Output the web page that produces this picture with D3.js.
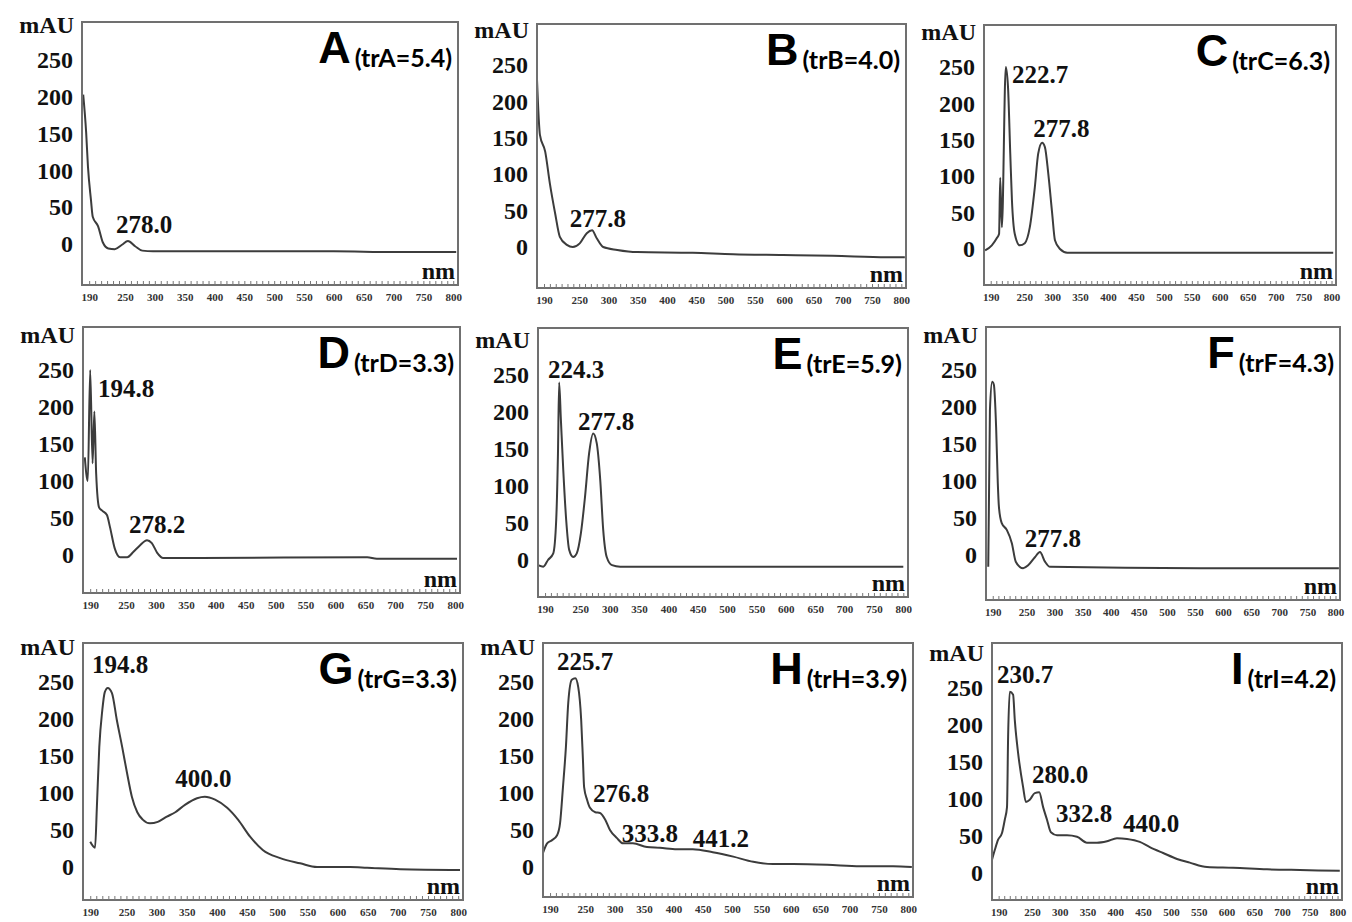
<!DOCTYPE html>
<html>
<head>
<meta charset="utf-8">
<script src="https://cdn.jsdelivr.net/npm/d3@7"></script>
<style>
  body { margin: 0; background: #fff; }
  svg { display: block; }
</style>
</head>
<body>
<div id="canvas"></div>
<script>
'use strict';

// Panel letters and retention times printed in each corner.
const panelIds = ['A', 'B', 'C', 'D', 'E', 'F', 'G', 'H', 'I'];
const retentionTimes = ['5.4', '4.0', '6.3', '3.3', '5.9', '4.3', '3.3', '3.9', '4.2'];

// Tick labels shared by all panels.
const mauTicks = [0, 50, 100, 150, 200, 250];
const nmTicks = [190, 250, 300, 350, 400, 450, 500, 550, 600, 650, 700, 750, 800];

// Spectra: wavelength (nm) and absorbance (mAU).
const nmA = [180, 185, 188, 193, 196, 205, 213, 222, 233, 245, 255, 267, 279, 297, 400, 500, 600, 700, 805];
const mauA = [203, 151, 105, 60, 37, 24, 2, -6, -7, -1, 4, -3, -9, -10, -10, -10, -10, -11, -11];

const nmB = [178, 183, 192, 200, 209, 217, 229, 239, 251, 263, 272, 280, 291, 315, 349, 444, 513, 598, 683, 775, 806];
const mauB = [230, 154, 131, 87, 46, 14, 3, 0, 5, 19, 23, 12, 0, -4, -7, -8, -10, -11, -12, -14, -14];

const nmC = [180, 192, 201, 205, 207, 210, 217, 221, 225, 228, 233, 242, 251, 260, 269, 275, 282, 287, 293, 300, 305, 314, 327, 600, 803];
const mauC = [-2, 5, 15, 21, 98, 30, 250, 222, 131, 67, 21, 5, 8, 30, 85, 131, 146, 140, 104, 49, 12, 0, -5, -5, -5];

const nmD = [181, 186, 190, 194, 197, 200, 205, 210, 218, 223, 231, 240, 252, 262, 273, 285, 293, 302, 312, 374, 653, 669, 803];
const mauD = [132, 100, 250, 124, 194, 110, 64, 60, 54, 38, 9, -3, -3, 4, 13, 20, 16, 3, -4, -4, -3, -5, -5];

const nmE = [178, 187, 195, 204, 209, 212, 214, 217, 221, 226, 231, 238, 244, 251, 258, 265, 272, 278, 284, 289, 295, 304, 318, 600, 800];
const mauE = [-7, -9, 0, 9, 54, 144, 240, 189, 122, 54, 14, 4, 9, 36, 85, 144, 171, 158, 108, 41, 4, -7, -9, -9, -9];

const nmF = [182, 185, 189, 192, 196, 199, 201, 206, 215, 224, 231, 244, 253, 265, 274, 283, 292, 559, 806];
const mauF = [-16, 196, 234, 230, 173, 97, 65, 43, 34, 16, -9, -18, -14, -3, 4, -9, -16, -18, -18];

const nmG = [190, 198, 201, 205, 210, 214, 219, 226, 234, 243, 251, 259, 268, 277, 289, 302, 317, 331, 347, 367, 380, 397, 417, 435, 455, 476, 505, 538, 566, 621, 649, 704, 803];
const mauG = [34, 26, 81, 162, 212, 236, 242, 235, 199, 162, 127, 95, 74, 64, 59, 61, 68, 74, 84, 93, 95, 91, 80, 64, 41, 23, 12, 5, 0, 0, -1, -3, -4];

const nmH = [178, 185, 193, 202, 207, 212, 217, 221, 227, 233, 238, 243, 246, 248, 253, 258, 267, 275, 284, 292, 304, 314, 331, 355, 377, 406, 433, 467, 502, 536, 570, 604, 662, 718, 774, 806];
const mauH = [19, 32, 36, 43, 59, 108, 162, 222, 253, 255, 243, 199, 145, 108, 91, 80, 74, 73, 64, 50, 39, 32, 32, 27, 26, 24, 24, 20, 14, 7, 4, 4, 3, 1, 1, 0];

const nmI = [178, 183, 189, 196, 201, 205, 207, 210, 216, 219, 225, 234, 239, 246, 255, 263, 270, 277, 284, 295, 313, 331, 349, 367, 385, 403, 421, 444, 462, 486, 511, 534, 565, 612, 673, 732, 804];
const mauI = [18, 31, 45, 54, 72, 89, 184, 245, 241, 207, 162, 116, 96, 99, 108, 109, 89, 72, 55, 51, 51, 49, 41, 41, 43, 47, 46, 42, 35, 27, 19, 14, 8, 7, 5, 4, 3];

// Peak labels, anchored (left edge, baseline) in data units.
const peaksA = [{label: '278.0', nm: 235, mau: 15}];
const peaksB = [{label: '277.8', nm: 234, mau: 27}];
const peaksC = [{label: '222.7', nm: 228, mau: 228}, {label: '277.8', nm: 266, mau: 154}];
const peaksD = [{label: '194.8', nm: 203, mau: 214}, {label: '278.2', nm: 255, mau: 30}];
const peaksE = [{label: '224.3', nm: 195, mau: 246}, {label: '277.8', nm: 246, mau: 176}];
const peaksF = [{label: '277.8', nm: 247, mau: 11}];
const peaksG = [{label: '194.8', nm: 193, mau: 262}, {label: '400.0', nm: 331, mau: 108}];
const peaksH = [{label: '225.7', nm: 202, mau: 266}, {label: '276.8', nm: 263, mau: 88},
  {label: '333.8', nm: 312, mau: 34}, {label: '441.2', nm: 433, mau: 27}];
const peaksI = [{label: '230.7', nm: 187, mau: 257}, {label: '280.0', nm: 250, mau: 122},
  {label: '332.8', nm: 293, mau: 69}, {label: '440.0', nm: 414, mau: 55}];

const spectra = {
  A: {nm: nmA, mau: mauA, peaks: peaksA},
  B: {nm: nmB, mau: mauB, peaks: peaksB},
  C: {nm: nmC, mau: mauC, peaks: peaksC},
  D: {nm: nmD, mau: mauD, peaks: peaksD},
  E: {nm: nmE, mau: mauE, peaks: peaksE},
  F: {nm: nmF, mau: mauF, peaks: peaksF},
  G: {nm: nmG, mau: mauG, peaks: peaksG},
  H: {nm: nmH, mau: mauH, peaks: peaksH},
  I: {nm: nmI, mau: mauI, peaks: peaksI},
};

// Frame boxes in page pixels. zeroY / topY are where 0 and 250 mAU sit,
// the scanned panels are not quite aligned so each one gets its own.
const frames = {
  A: {left: 82, top: 22, right: 458, bottom: 285, zeroY: 244, topY: 60},
  B: {left: 537, top: 24, right: 906, bottom: 288, zeroY: 247, topY: 65},
  C: {left: 984, top: 25, right: 1336, bottom: 285, zeroY: 249, topY: 67},
  D: {left: 83, top: 327, right: 460, bottom: 593, zeroY: 555, topY: 370},
  E: {left: 538, top: 328, right: 908, bottom: 597, zeroY: 560, topY: 375},
  F: {left: 986, top: 327, right: 1340, bottom: 600, zeroY: 555, topY: 370},
  G: {left: 83, top: 643, right: 463, bottom: 900, zeroY: 867, topY: 682},
  H: {left: 543, top: 643, right: 913, bottom: 897, zeroY: 867, topY: 682},
  I: {left: 992, top: 643, right: 1342, bottom: 900, zeroY: 873, topY: 688},
};

const SERIF = '"Liberation Serif", "Times New Roman", serif';

/**
 * Draws one UV spectrum panel (frame, axes, trace and peak labels).
 */
class SpectrumPanel {
  constructor(svg, id, tr, frame, spectrum) {
    /** @private @const */
    this.svg_ = svg;
    /** @private @const {string} */
    this.id_ = id;
    /** @private @const {string} */
    this.tr_ = tr;
    /** @private @const {Object} */
    this.frame_ = frame;
    /** @private @const {Object} */
    this.spectrum_ = spectrum;
    /** @private */
    this.x_ = d3.scaleLinear()
        .domain([178, 808])
        .range([frame.left, frame.right]);
    /** @private */
    this.y_ = d3.scaleLinear()
        .domain([0, 250])
        .range([frame.zeroY, frame.topY]);
    /** @private */
    this.group_ = svg.append('g').attr('class', `panel-${id}`);
  }

  draw() {
    this.drawCurve_();
    this.drawFrame_();
    this.drawAxes_();
    this.labelPeaks_();
    this.labelTitle_();
  }

  drawFrame_() {
    const f = this.frame_;
    this.group_.append('rect')
        .attr('x', f.left)
        .attr('y', f.top)
        .attr('width', f.right - f.left)
        .attr('height', f.bottom - f.top)
        .attr('fill', 'none')
        .attr('stroke', '#707070')
        .attr('stroke-width', 2);
  }

  drawAxes_() {
    const f = this.frame_;
    const yAxis = this.group_.append('g')
        .attr('transform', `translate(${f.left}, 0)`)
        .call(d3.axisLeft(this.y_).tickValues(mauTicks).tickSize(0).tickPadding(9));
    yAxis.select('.domain').remove();
    yAxis.selectAll('text')
        .attr('font-family', SERIF)
        .attr('font-weight', 'bold')
        .attr('font-size', 24)
        .attr('fill', '#111');

    // Small tick marks every 10 nm along the bottom edge.
    const minor = this.group_.append('g')
        .attr('transform', `translate(0, ${f.bottom})`)
        .call(d3.axisBottom(this.x_)
            .tickValues(d3.range(190, 801, 10))
            .tickSize(-4)
            .tickFormat(''));
    minor.select('.domain').remove();
    minor.selectAll('line').attr('stroke', '#777');

    const xAxis = this.group_.append('g')
        .attr('transform', `translate(0, ${f.bottom})`)
        .call(d3.axisBottom(this.x_).tickValues(nmTicks).tickSize(0).tickPadding(8));
    xAxis.select('.domain').remove();
    xAxis.selectAll('text')
        .attr('font-family', SERIF)
        .attr('font-weight', 'bold')
        .attr('font-size', 11)
        .attr('fill', '#333');

    this.group_.append('text')
        .attr('x', f.left - 8)
        .attr('y', f.topY - 27)
        .attr('text-anchor', 'end')
        .attr('font-family', SERIF)
        .attr('font-weight', 'bold')
        .attr('font-size', 24)
        .attr('fill', '#111')
        .text('mAU');

    this.group_.append('text')
        .attr('x', f.right - 3)
        .attr('y', f.bottom - 6)
        .attr('text-anchor', 'end')
        .attr('font-family', SERIF)
        .attr('font-weight', 'bold')
        .attr('font-size', 24)
        .attr('fill', '#111')
        .text('nm');
  }

  drawCurve_() {
    const f = this.frame_;
    const clipId = `clip-${this.id_}`;
    this.group_.append('clipPath')
        .attr('id', clipId)
        .append('rect')
        .attr('x', f.left)
        .attr('y', f.top)
        .attr('width', f.right - f.left)
        .attr('height', f.bottom - f.top);

    const points = d3.zip(this.spectrum_.nm, this.spectrum_.mau);
    const line = d3.line()
        .x(d => this.x_(d[0]))
        .y(d => this.y_(d[1]))
        .curve(d3.curveMonotoneX);
    this.group_.append('path')
        .datum(points)
        .attr('d', line)
        .attr('fill', 'none')
        .attr('stroke', '#3c3c3c')
        .attr('stroke-width', 2)
        .attr('stroke-linejoin', 'round')
        .attr('clip-path', `url(#${clipId})`);
  }

  labelPeaks_() {
    this.group_.selectAll('.peak')
        .data(this.spectrum_.peaks)
        .enter()
        .append('text')
        .attr('class', 'peak')
        .attr('x', d => this.x_(d.nm))
        .attr('y', d => this.y_(d.mau))
        .attr('font-family', SERIF)
        .attr('font-weight', 'bold')
        .attr('font-size', 25)
        .attr('fill', '#111')
        .text(d => d.label);
  }

  labelTitle_() {
    const f = this.frame_;
    const title = this.group_.append('text')
        .attr('x', f.right - 6)
        .attr('y', f.top + 41)
        .attr('text-anchor', 'end')
        .attr('fill', '#000');
    title.append('tspan')
        .attr('font-family', '"Liberation Sans", Arial, sans-serif')
        .attr('font-weight', 'bold')
        .attr('font-size', 45)
        .text(this.id_);
    title.append('tspan')
        .attr('dx', 4)
        .attr('dy', 4)
        .attr('font-family', 'Lato, "Open Sans", sans-serif')
        .attr('font-weight', 'bold')
        .attr('font-size', 25)
        .text(`(tr${this.id_}=${this.tr_})`);
  }
}

const svg = d3.select('#canvas').append('svg')
    .attr('width', 1352)
    .attr('height', 922);
svg.append('rect')
    .attr('width', 1352)
    .attr('height', 922)
    .attr('fill', '#fff');

panelIds.forEach((id, i) => {
  new SpectrumPanel(svg, id, retentionTimes[i], frames[id], spectra[id]).draw();
});
</script>
</body>
</html>
